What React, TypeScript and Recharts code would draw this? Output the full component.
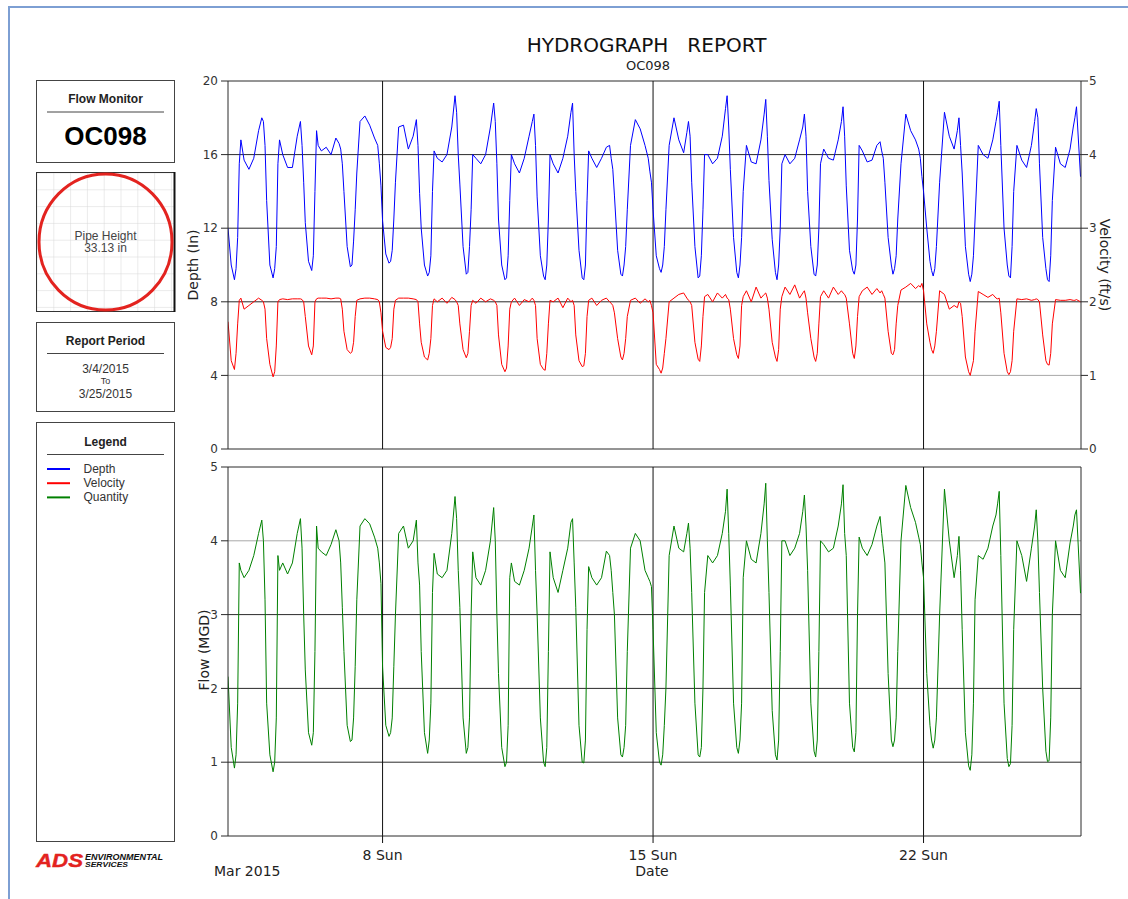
import React from "react";
import { LineChart, Line, XAxis, YAxis, ReferenceLine } from "recharts";

// ---- data (hour-of-day sample points, one row per day, Mar 4 .. Mar 25 2015) ----
const HOURS = [0, 2, 4, 5, 6, 7, 8, 10, 13, 16, 19, 21, 22, 23];

const DEPTH = [
  [12.0, 10.0, 9.2, 9.8, 11.5, 15.5, 16.8, 15.7, 15.2, 15.8, 17.3, 18.0, 17.8, 16.5],
  [13.5, 10.0, 9.3, 9.8, 11.0, 15.5, 16.8, 16.0, 15.3, 15.3, 17.0, 17.8, 16.5, 14.5],
  [12.3, 10.2, 9.7, 10.5, 14.0, 17.3, 16.5, 16.2, 16.4, 16.0, 16.9, 16.6, 16.3, 15.5],
  [14.0, 11.0, 9.9, 10.0, 11.3, 13.0, 15.0, 17.8, 18.1, 17.6, 16.9, 16.5, 15.5, 14.3],
  [12.4, 10.6, 10.1, 10.2, 10.8, 12.5, 14.5, 17.5, 17.6, 16.3, 17.0, 17.9, 16.5, 13.9],
  [12.0, 10.0, 9.4, 9.6, 10.5, 14.0, 16.2, 15.8, 15.6, 16.0, 17.5, 19.2, 18.3, 16.0],
  [14.4, 11.0, 9.5, 9.6, 11.0, 13.0, 16.0, 15.8, 15.5, 16.0, 17.5, 18.8, 17.8, 15.5],
  [12.5, 10.0, 9.2, 9.3, 10.5, 13.5, 16.0, 15.5, 15.0, 15.8, 17.0, 17.8, 18.2, 16.5],
  [13.7, 10.5, 9.4, 9.2, 10.0, 12.5, 16.0, 15.5, 15.0, 15.8, 17.0, 18.3, 18.8, 16.0],
  [14.0, 10.8, 9.3, 9.2, 10.0, 13.5, 16.2, 15.8, 15.3, 15.8, 16.4, 16.5, 15.8, 15.2],
  [13.8, 10.8, 9.5, 9.4, 10.0, 11.0, 13.0, 16.5, 17.9, 17.4, 16.5, 15.8, 15.1, 14.5],
  [13.0, 10.5, 9.8, 9.6, 10.0, 11.0, 13.0, 16.5, 18.0, 16.8, 16.1, 17.2, 17.8, 17.0],
  [14.5, 11.0, 9.3, 9.4, 10.5, 13.0, 16.0, 16.0, 15.5, 15.8, 17.0, 18.5, 19.2, 17.5],
  [15.2, 11.5, 9.6, 9.3, 10.0, 11.5, 14.0, 16.5, 15.6, 15.5, 16.8, 18.2, 19.0, 17.0],
  [14.6, 11.4, 9.6, 9.2, 10.0, 12.0, 15.5, 16.0, 15.5, 15.8, 16.8, 17.5, 18.2, 17.0],
  [14.0, 11.0, 9.5, 9.4, 10.0, 12.0, 15.5, 16.3, 15.8, 15.7, 16.8, 17.8, 18.6, 17.0],
  [14.3, 10.8, 9.7, 9.5, 10.0, 12.5, 16.5, 16.2, 15.6, 15.7, 16.5, 16.7, 16.2, 15.8],
  [14.5, 11.5, 10.0, 9.5, 9.8, 10.5, 12.5, 15.5, 18.2, 17.3, 16.8, 16.3, 15.8, 14.8],
  [14.0, 12.0, 10.2, 9.7, 9.4, 9.8, 11.0, 14.5, 18.3, 17.0, 16.3, 17.3, 18.0, 16.5],
  [15.0, 11.0, 9.5, 9.1, 9.5, 10.5, 12.5, 16.5, 16.0, 15.8, 16.8, 17.8, 18.3, 18.9],
  [16.5, 12.0, 10.0, 9.4, 9.3, 11.0, 14.0, 16.5, 15.7, 15.3, 16.5, 17.8, 18.5, 18.0],
  [15.5, 11.5, 9.8, 9.2, 9.1, 10.5, 13.5, 16.4, 15.5, 15.3, 16.3, 17.5, 18.0, 18.6],
];

const VELOCITY = [
  [1.73, 1.2, 1.08, 1.3, 1.7, 2.02, 2.05, 1.9, 1.95, 2.0, 2.05, 2.02, 2.0, 1.9],
  [1.5, 1.15, 0.98, 1.05, 1.4, 2.0, 2.03, 2.04, 2.03, 2.04, 2.04, 2.04, 2.03, 2.0],
  [1.8, 1.4, 1.28, 1.4, 2.0, 2.04, 2.05, 2.05, 2.05, 2.04, 2.05, 2.05, 2.04, 1.9],
  [1.6, 1.35, 1.3, 1.32, 1.45, 1.8, 2.02, 2.04, 2.05, 2.05, 2.04, 2.03, 2.0, 1.85],
  [1.6, 1.38, 1.35, 1.38, 1.5, 1.9, 2.02, 2.05, 2.05, 2.05, 2.04, 2.03, 2.0, 1.7],
  [1.45, 1.25, 1.21, 1.3, 1.5, 1.95, 2.04, 2.0, 2.05, 1.98, 2.06, 2.03, 2.0, 1.95],
  [1.7, 1.35, 1.24, 1.3, 1.6, 1.95, 2.02, 1.98, 2.05, 2.0, 2.04, 2.02, 2.0, 1.95],
  [1.55, 1.15, 1.05, 1.1, 1.4, 1.9, 2.0, 2.05, 1.95, 2.03, 2.0, 2.05, 2.02, 1.95],
  [1.5, 1.15, 1.08, 1.07, 1.3, 1.7, 2.02, 2.0, 2.05, 1.92, 2.05, 2.0, 2.02, 1.95],
  [1.55, 1.2, 1.12, 1.13, 1.3, 1.8, 2.02, 2.05, 1.95, 2.02, 2.05, 2.0, 1.98, 1.95],
  [1.85, 1.5, 1.25, 1.21, 1.3, 1.5, 1.8, 2.02, 2.05, 1.98, 2.04, 2.0, 2.02, 1.95],
  [1.85, 1.15, 1.08, 1.03, 1.1, 1.3, 1.5, 2.0, 2.05, 2.1, 2.12, 2.05, 2.02, 2.0],
  [1.95, 1.45, 1.22, 1.19, 1.4, 1.8, 2.07, 2.1, 2.0, 2.12, 2.05, 2.1, 2.05, 2.03],
  [1.9, 1.5, 1.28, 1.23, 1.4, 1.95, 2.07, 2.15, 2.0, 2.2, 2.05, 2.1, 2.12, 2.05],
  [1.9, 1.45, 1.25, 1.19, 1.35, 1.9, 2.07, 2.2, 2.1, 2.23, 2.05, 2.12, 2.15, 2.05],
  [1.85, 1.5, 1.25, 1.19, 1.3, 1.7, 2.07, 2.15, 2.05, 2.2, 2.1, 2.15, 2.12, 2.1],
  [2.05, 1.7, 1.3, 1.23, 1.4, 1.8, 2.07, 2.15, 2.2, 2.1, 2.18, 2.12, 2.15, 2.1],
  [2.05, 1.6, 1.3, 1.28, 1.35, 1.7, 1.95, 2.16, 2.2, 2.25, 2.18, 2.22, 2.2, 2.25],
  [2.15, 1.7, 1.45, 1.35, 1.3, 1.4, 1.6, 2.15, 2.1, 1.9, 1.95, 1.92, 2.0, 1.98],
  [1.8, 1.25, 1.05, 1.0, 1.1, 1.2, 1.6, 2.14, 2.1, 2.06, 2.1, 2.05, 2.04, 2.05],
  [1.85, 1.3, 1.05, 1.01, 1.05, 1.2, 1.6, 2.04, 2.03, 2.04, 2.02, 2.03, 2.04, 2.03],
  [2.0, 1.55, 1.2, 1.15, 1.14, 1.3, 1.7, 2.03, 2.02, 2.02, 2.03, 2.02, 2.02, 2.03],
];

const FLOW = [
  [2.16, 1.2, 0.92, 1.1, 1.8, 3.7, 3.6, 3.5, 3.6, 3.8, 4.1, 4.28, 4.0, 3.2],
  [1.8, 1.1, 0.87, 1.0, 1.6, 3.8, 3.6, 3.7, 3.55, 3.7, 4.1, 4.3, 3.9, 3.0],
  [2.25, 1.4, 1.23, 1.4, 2.5, 4.2, 3.9, 3.85, 3.8, 3.95, 4.15, 4.0, 3.7, 3.1],
  [2.5, 1.5, 1.28, 1.3, 1.6, 2.3, 3.2, 4.2, 4.3, 4.23, 4.05, 3.9, 3.7, 3.42],
  [2.29, 1.5, 1.35, 1.4, 1.6, 2.3, 3.0, 4.1, 4.2, 3.9, 4.0, 4.28, 3.7, 3.4],
  [2.5, 1.4, 1.12, 1.3, 1.8, 3.3, 3.83, 3.55, 3.5, 3.6, 4.1, 4.6, 4.3, 3.6],
  [3.1, 1.6, 1.12, 1.2, 1.6, 3.0, 3.85, 3.5, 3.4, 3.6, 4.0, 4.45, 4.0, 3.0],
  [2.2, 1.2, 0.94, 1.0, 1.5, 3.5, 3.7, 3.45, 3.4, 3.6, 3.9, 4.2, 4.35, 3.6],
  [3.0, 1.6, 1.0, 0.94, 1.2, 2.5, 3.85, 3.5, 3.3, 3.6, 3.9, 4.25, 4.3, 3.7],
  [3.1, 1.5, 1.0, 0.99, 1.3, 2.8, 3.65, 3.5, 3.4, 3.5, 3.86, 3.8, 3.6, 3.3],
  [3.0, 1.6, 1.1, 1.07, 1.2, 1.5, 2.5, 3.9, 4.1, 4.0, 3.6, 3.5, 3.45, 3.38],
  [2.8, 1.4, 1.0, 0.96, 1.1, 1.5, 2.0, 3.8, 4.2, 3.9, 3.85, 4.1, 4.24, 3.9],
  [3.3, 1.8, 1.1, 1.07, 1.2, 2.0, 3.3, 3.8, 3.7, 3.8, 4.1, 4.4, 4.7, 4.1],
  [3.4, 1.8, 1.2, 1.12, 1.3, 1.8, 3.5, 4.0, 3.75, 3.7, 4.1, 4.5, 4.78, 4.0],
  [3.3, 1.7, 1.1, 1.03, 1.3, 2.5, 4.0, 4.0, 3.8, 3.9, 4.1, 4.4, 4.62, 4.2],
  [3.6, 1.8, 1.15, 1.07, 1.3, 2.5, 4.0, 3.95, 3.85, 3.9, 4.2, 4.5, 4.76, 4.1],
  [3.8, 1.8, 1.2, 1.14, 1.4, 3.0, 4.05, 3.9, 3.8, 3.95, 4.2, 4.33, 4.1, 3.9],
  [3.7, 2.2, 1.3, 1.21, 1.3, 1.6, 2.5, 4.0, 4.75, 4.45, 4.25, 4.05, 3.95, 3.7],
  [3.5, 2.2, 1.5, 1.3, 1.19, 1.3, 1.6, 3.0, 4.7, 4.0, 3.5, 3.8, 4.06, 3.6],
  [2.8, 1.4, 0.95, 0.89, 1.1, 1.8, 3.2, 3.8, 3.75, 3.9, 4.2, 4.35, 4.5, 4.67],
  [3.8, 1.8, 1.05, 0.94, 0.98, 1.5, 2.8, 4.0, 3.8, 3.45, 3.9, 4.2, 4.42, 4.0],
  [3.3, 2.0, 1.15, 1.01, 1.02, 1.6, 3.0, 4.0, 3.6, 3.5, 3.97, 4.2, 4.35, 4.42],
];

const END_T = 529.5;
const END_DEPTH = 14.8;
const END_VELOCITY = 2.0;
const END_FLOW = 3.29;

const X_MAX = 529.8;
const DAY_TICKS = [96, 264, 432];
const DAY_LABELS = ["8 Sun", "15 Sun", "22 Sun"];
const DEPTH_TICKS = [0, 4, 8, 12, 16, 20];
const VELOCITY_TICKS = [0, 1, 2, 3, 4, 5];
const FLOW_TICKS = [0, 1, 2, 3, 4, 5];
const DEPTH_GRID_DARK = [20, 16, 12, 8, 0];
const DEPTH_GRID_LIGHT = [4];
const FLOW_GRID_DARK = [5, 3, 2, 1];
const FLOW_GRID_LIGHT = [4];

const SERIES = [
  { name: "Depth", color: "#0000ff" },
  { name: "Velocity", color: "#ff0000" },
  { name: "Quantity", color: "#008000" },
];

const rows = DEPTH.flatMap((dayVals, d) =>
  HOURS.map((h, j) => ({
    t: d * 24 + h,
    depth: dayVals[j],
    velocity: VELOCITY[d][j],
    flow: FLOW[d][j],
  }))
);
rows.push({ t: END_T, depth: END_DEPTH, velocity: END_VELOCITY, flow: END_FLOW });

const FONT = "DejaVu Sans, Verdana, sans-serif";
const PANEL_FONT = "Liberation Sans, Arial, sans-serif";
const DARK = "#2a2a2a";
const LIGHT = "#a8a8a8";

const yTick = { fontSize: 12, fill: "#333", fontFamily: FONT };

function LeftPanel() {
  return (
    <g fontFamily={PANEL_FONT}>
      <defs>
        <pattern id="pipegrid" x="36.5" y="172.5" width="16.8" height="16.8" patternUnits="userSpaceOnUse">
          <rect width="16.8" height="16.8" fill="#fff" />
          <path d="M16.8 0 L0 0 0 16.8" fill="none" stroke="#d8d8d8" strokeWidth="1" />
        </pattern>
      </defs>
      {/* Flow monitor box */}
      <rect x={36.5} y={80.5} width={138} height={82} fill="#fff" stroke="#444" />
      <text x={105.5} y={103} textAnchor="middle" fontSize={12} fontWeight="bold" fill="#222">Flow Monitor</text>
      <line x1={47} y1={112} x2={164} y2={112} stroke="#444" />
      <text x={105.5} y={145} textAnchor="middle" fontSize={26} fontWeight="bold" fill="#000">OC098</text>

      {/* Pipe box */}
      <rect x={36.5} y={172.5} width={138} height={139} fill="url(#pipegrid)" stroke="#333" />
      <line x1={174.5} y1={172} x2={174.5} y2={312} stroke="#111" strokeWidth={2} />
      <ellipse cx={105.5} cy={242} rx={66.5} ry={68} fill="none" stroke="#e3231f" strokeWidth={3} />
      <text x={105.5} y={239.5} textAnchor="middle" fontSize={12} fill="#444">Pipe Height</text>
      <text x={105.5} y={251.5} textAnchor="middle" fontSize={12} fill="#444">33.13 in</text>

      {/* Report period */}
      <rect x={36.5} y={322.5} width={138} height={89} fill="#fff" stroke="#444" />
      <text x={105.5} y={345} textAnchor="middle" fontSize={12} fontWeight="bold" fill="#222">Report Period</text>
      <line x1={47} y1={353.5} x2={164} y2={353.5} stroke="#444" />
      <text x={105.5} y={373} textAnchor="middle" fontSize={12} fill="#333">3/4/2015</text>
      <text x={105.5} y={383.5} textAnchor="middle" fontSize={9} fill="#333">To</text>
      <text x={105.5} y={398} textAnchor="middle" fontSize={12} fill="#333">3/25/2015</text>

      {/* Legend */}
      <rect x={36.5} y={422.5} width={138} height={419} fill="#fff" stroke="#444" />
      <text x={105.5} y={446} textAnchor="middle" fontSize={12} fontWeight="bold" fill="#222">Legend</text>
      <line x1={47} y1={454.5} x2={164} y2={454.5} stroke="#444" />
      {SERIES.map((s, i) => (
        <g key={s.name}>
          <line x1={47} y1={469 + i * 14.2} x2={70} y2={469 + i * 14.2} stroke={s.color} strokeWidth={2} />
          <text x={83.5} y={473 + i * 14.2} fontSize={12} fill="#333">{s.name}</text>
        </g>
      ))}

      {/* ADS logo */}
      <text x={36} y={866.5} fontSize={19} fontWeight="900" fontStyle="italic" fill="#e3231f"
        stroke="#e3231f" strokeWidth={0.4} textLength={47} lengthAdjust="spacingAndGlyphs">ADS</text>
      <text fontWeight="900" fontStyle="italic" fill="#111">
        <tspan x={85} y={859.5} fontSize={8.5} textLength={78} lengthAdjust="spacingAndGlyphs">ENVIRONMENTAL</tspan>
        <tspan x={85} y={866.5} fontSize={7} textLength={43} lengthAdjust="spacingAndGlyphs">SERVICES</tspan>
      </text>
    </g>
  );
}

export default function App() {
  return (
    <div style={{ position: "absolute", left: 0, top: 0, width: 1128, height: 899, background: "#fff", overflow: "hidden" }}>
      <svg width={1128} height={899} style={{ position: "absolute", left: 0, top: 0 }}>
        <line x1={8} y1={7} x2={1128} y2={7} stroke="#7d9fd3" strokeWidth={2} />
        <line x1={9} y1={6} x2={9} y2={899} stroke="#7d9fd3" strokeWidth={2} />
        <LeftPanel />
        <text x={646.5} y={52} textAnchor="middle" fontSize={20} fontFamily={FONT} fill="#111" style={{ whiteSpace: "pre" }}>
          {"HYDROGRAPH   REPORT"}
        </text>
        <text x={648} y={70} textAnchor="middle" fontSize={13} fontFamily={FONT} fill="#222">OC098</text>
        <text transform="translate(193,265) rotate(-90)" textAnchor="middle" dominantBaseline="central" fontSize={14} fontFamily={FONT} fill="#222">Depth (In)</text>
        <text transform="translate(1105,265) rotate(90)" textAnchor="middle" dominantBaseline="central" fontSize={14} fontFamily={FONT} fill="#222">Velocity (ft/s)</text>
        <text transform="translate(203.5,650) rotate(-90)" textAnchor="middle" dominantBaseline="central" fontSize={14} fontFamily={FONT} fill="#222">Flow (MGD)</text>
        <text x={214} y={876} fontSize={14} fontFamily={FONT} fill="#222">Mar 2015</text>
        <text x={652} y={876} textAnchor="middle" fontSize={14} fontFamily={FONT} fill="#222">Date</text>
      </svg>

      {/* Top chart: depth + velocity */}
      <div style={{ position: "absolute", left: 188, top: 71 }}>
        <LineChart width={933} height={388} data={rows} margin={{ top: 10, right: 0, bottom: 10, left: 0 }}>
          <XAxis type="number" dataKey="t" domain={[0, X_MAX]} hide allowDataOverflow />
          <YAxis yAxisId="d" domain={[0, 20]} ticks={DEPTH_TICKS} interval={0} width={40} tickSize={7} tickMargin={3}
            axisLine={{ stroke: DARK }} tickLine={{ stroke: DARK }} tick={yTick} />
          <YAxis yAxisId="v" orientation="right" domain={[0, 5]} ticks={VELOCITY_TICKS} interval={0} width={40} tickSize={7} tickMargin={1}
            axisLine={{ stroke: DARK }} tickLine={{ stroke: DARK }} tick={yTick} />
          {DEPTH_GRID_LIGHT.map((v) => (
            <ReferenceLine key={"l" + v} yAxisId="d" y={v} stroke={LIGHT} strokeWidth={1} />
          ))}
          {DEPTH_GRID_DARK.map((v) => (
            <ReferenceLine key={"d" + v} yAxisId="d" y={v} stroke={DARK} strokeWidth={1} />
          ))}
          {DAY_TICKS.map((v) => (
            <ReferenceLine key={"x" + v} yAxisId="d" x={v} stroke="#111" strokeWidth={1} />
          ))}
          <Line yAxisId="d" type="linear" dataKey="depth" stroke="#0000ff" strokeWidth={1} dot={false} isAnimationActive={false} />
          <Line yAxisId="v" type="linear" dataKey="velocity" stroke="#ff0000" strokeWidth={1} dot={false} isAnimationActive={false} />
        </LineChart>
      </div>

      {/* Bottom chart: flow */}
      <div style={{ position: "absolute", left: 188, top: 457 }}>
        <LineChart width={933} height={424} data={rows} margin={{ top: 10, right: 40, bottom: 5, left: 0 }}>
          <XAxis type="number" dataKey="t" domain={[0, X_MAX]} ticks={DAY_TICKS} interval={0} allowDataOverflow
            tickFormatter={(v) => DAY_LABELS[DAY_TICKS.indexOf(v)]} height={40} tickSize={7} tickMargin={7}
            axisLine={{ stroke: DARK }} tickLine={{ stroke: "#111" }} tick={{ fontSize: 14, fill: "#222", fontFamily: FONT }} />
          <YAxis domain={[0, 5]} ticks={FLOW_TICKS} interval={0} width={40} tickSize={7} tickMargin={3}
            axisLine={{ stroke: DARK }} tickLine={{ stroke: DARK }} tick={yTick} />
          {FLOW_GRID_LIGHT.map((v) => (
            <ReferenceLine key={"l" + v} y={v} stroke={LIGHT} strokeWidth={1} />
          ))}
          {FLOW_GRID_DARK.map((v) => (
            <ReferenceLine key={"d" + v} y={v} stroke={DARK} strokeWidth={1} />
          ))}
          {DAY_TICKS.map((v) => (
            <ReferenceLine key={"x" + v} x={v} stroke="#111" strokeWidth={1} />
          ))}
          <ReferenceLine x={X_MAX} stroke={DARK} strokeWidth={1} />
          <Line type="linear" dataKey="flow" stroke="#008000" strokeWidth={1} dot={false} isAnimationActive={false} />
        </LineChart>
      </div>
    </div>
  );
}
